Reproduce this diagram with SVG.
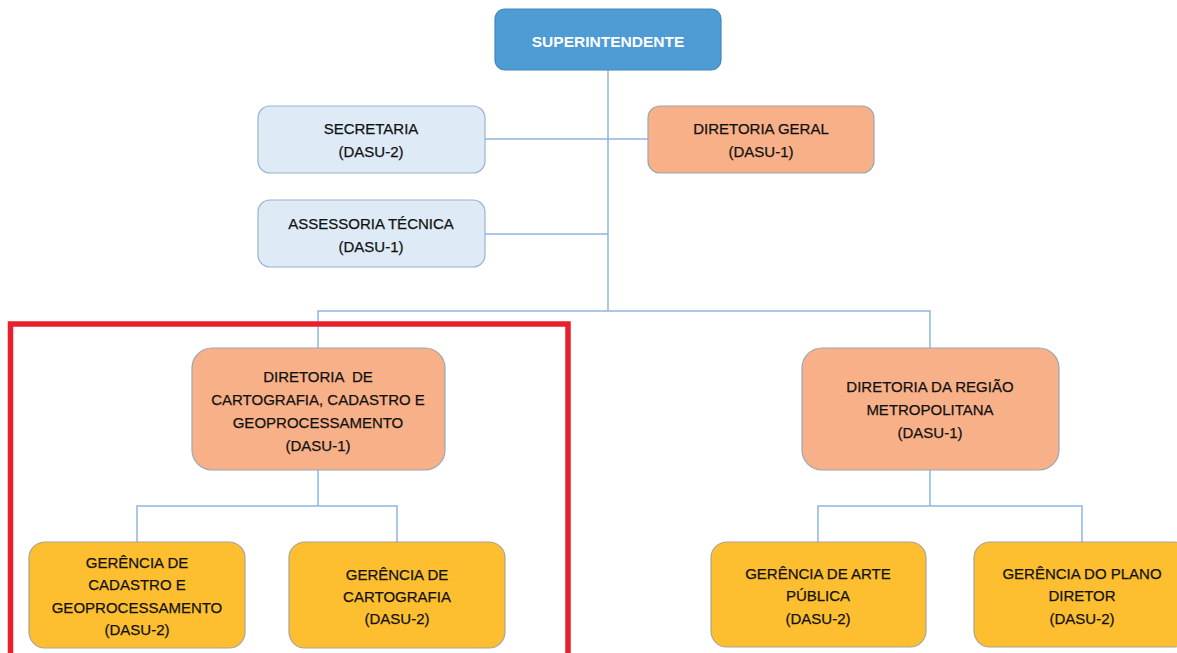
<svg xmlns="http://www.w3.org/2000/svg" width="1177" height="653" viewBox="0 0 1177 653">
  <style>
    .box { stroke-width: 1.2; }
    .top { fill: #4f9bd4; stroke: #4585bd; }
    .staff { fill: #deebf7; stroke: #97b3cf; }
    .dir { fill: #f8b089; stroke: #9aa6b4; }
    .ger { fill: #fdbf2f; stroke: #a9a496; }
    .lbl { font-family: "Liberation Sans", Arial, sans-serif; font-size: 15px; fill: #111111; stroke: #111111; stroke-width: 0.25; text-anchor: middle; }
    .lbl-top { font-family: "Liberation Sans", Arial, sans-serif; font-size: 15.5px; font-weight: bold; fill: #ffffff; text-anchor: middle; }
    .link { fill: none; stroke: #8db6df; stroke-width: 1.5; }
  </style>

  <rect width="1177" height="653" fill="#ffffff"/>

  <!-- connectors -->
  <g id="connectors">
    <path class="link" d="M608 70 V311"/>
    <path class="link" d="M485 139 H648"/>
    <path class="link" d="M485 234 H608"/>
    <path class="link" d="M318 348 V311 H930 V348"/>
    <path class="link" d="M318 470 V506 M137 542 V506 H397 V542"/>
    <path class="link" d="M930 470 V506 M818 542 V506 H1082 V542"/>
  </g>

  <g id="superintendente">
    <rect class="box top" x="495" y="9" width="226" height="61" rx="10"/>
    <text class="lbl-top" x="608" y="47">SUPERINTENDENTE</text>
  </g>

  <g id="secretaria">
    <rect class="box staff" x="258" y="106" width="227" height="67" rx="12"/>
    <text class="lbl" x="371" y="134">SECRETARIA</text>
    <text class="lbl" x="371" y="157">(DASU-2)</text>
  </g>

  <g id="assessoria-tecnica">
    <rect class="box staff" x="258" y="200" width="227" height="67" rx="12"/>
    <text class="lbl" x="371" y="229">ASSESSORIA TÉCNICA</text>
    <text class="lbl" x="371" y="252">(DASU-1)</text>
  </g>

  <g id="diretoria-geral">
    <rect class="box dir" x="648" y="106" width="226" height="67" rx="12"/>
    <text class="lbl" x="761" y="134">DIRETORIA GERAL</text>
    <text class="lbl" x="761" y="157">(DASU-1)</text>
  </g>

  <g id="diretoria-cartografia">
    <rect class="box dir" x="192" y="348" width="253" height="122" rx="20"/>
    <text class="lbl" x="318" y="382" xml:space="preserve">DIRETORIA  DE</text>
    <text class="lbl" x="318" y="405">CARTOGRAFIA, CADASTRO E</text>
    <text class="lbl" x="318" y="428">GEOPROCESSAMENTO</text>
    <text class="lbl" x="318" y="451">(DASU-1)</text>
  </g>

  <g id="diretoria-regiao-metropolitana">
    <rect class="box dir" x="802" y="348" width="257" height="122" rx="20"/>
    <text class="lbl" x="930" y="392">DIRETORIA DA REGIÃO</text>
    <text class="lbl" x="930" y="415">METROPOLITANA</text>
    <text class="lbl" x="930" y="438">(DASU-1)</text>
  </g>

  <g id="gerencia-cadastro">
    <rect class="box ger" x="29" y="542" width="216" height="106" rx="16"/>
    <text class="lbl" x="137" y="568">GERÊNCIA DE</text>
    <text class="lbl" x="137" y="590">CADASTRO E</text>
    <text class="lbl" x="137" y="613">GEOPROCESSAMENTO</text>
    <text class="lbl" x="137" y="635">(DASU-2)</text>
  </g>

  <g id="gerencia-cartografia">
    <rect class="box ger" x="289" y="542" width="216" height="106" rx="16"/>
    <text class="lbl" x="397" y="580">GERÊNCIA DE</text>
    <text class="lbl" x="397" y="602">CARTOGRAFIA</text>
    <text class="lbl" x="397" y="624">(DASU-2)</text>
  </g>

  <g id="gerencia-arte-publica">
    <rect class="box ger" x="711" y="542" width="215" height="105" rx="16"/>
    <text class="lbl" x="818" y="579">GERÊNCIA DE ARTE</text>
    <text class="lbl" x="818" y="601">PÚBLICA</text>
    <text class="lbl" x="818" y="624">(DASU-2)</text>
  </g>

  <g id="gerencia-plano-diretor">
    <rect class="box ger" x="974" y="542" width="216" height="105" rx="16"/>
    <text class="lbl" x="1082" y="579">GERÊNCIA DO PLANO</text>
    <text class="lbl" x="1082" y="601">DIRETOR</text>
    <text class="lbl" x="1082" y="624">(DASU-2)</text>
  </g>

  <!-- highlight frame around the cartography branch -->
  <g id="highlight">
    <path d="M10.5 660 V324 H568 V660" fill="none" stroke="#e8202b" stroke-width="5.5"/>
  </g>
</svg>
